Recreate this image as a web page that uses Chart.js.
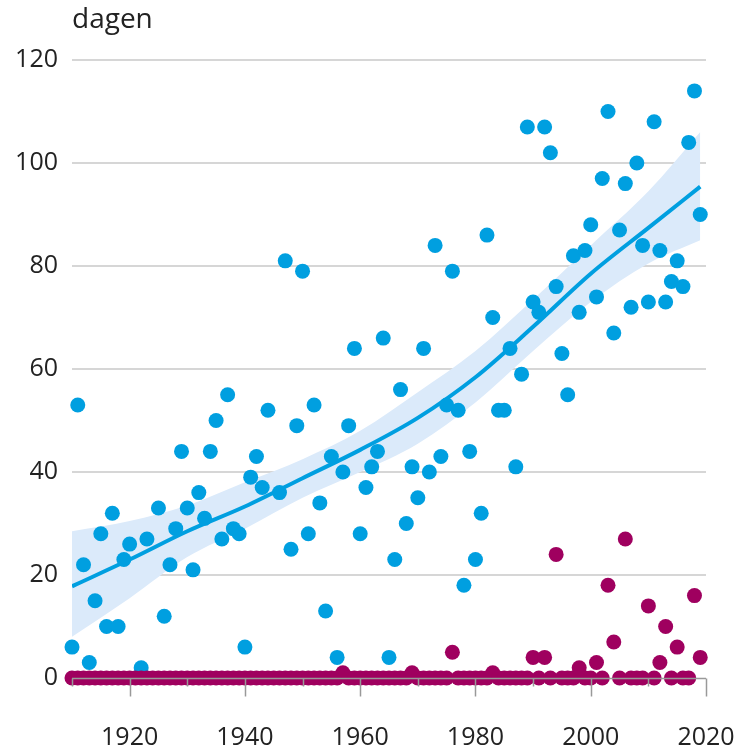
<!DOCTYPE html>
<html>
<head>
    <title>dagen</title>
    <script src="https://cdn.jsdelivr.net/npm/chart.js"></script>
    <style>
        body { margin: 0; background: #ffffff; }
        #wrap { width: 745px; height: 746px; }
    </style>
</head>
<body>
    <div id="wrap"><canvas id="daysChart" width="745" height="746"></canvas></div>
    <script>
        // blue series: days per year (years without a visible dot are left out)
        const blueYears = [
            1910, 1911, 1912, 1913, 1914, 1915, 1916, 1917, 1918, 1919,
            1920, 1922, 1923, 1925, 1926, 1927, 1928, 1929,
            1930, 1931, 1932, 1933, 1934, 1935, 1936, 1937, 1938, 1939,
            1940, 1941, 1942, 1943, 1944, 1946, 1947, 1948, 1949,
            1950, 1951, 1952, 1953, 1954, 1955, 1956, 1957, 1958, 1959,
            1960, 1961, 1962, 1963, 1964, 1965, 1966, 1967, 1968, 1969,
            1970, 1971, 1972, 1973, 1974, 1975, 1976, 1977, 1978, 1979,
            1980, 1981, 1982, 1983, 1984, 1985, 1986, 1987, 1988, 1989,
            1990, 1991, 1992, 1993, 1994, 1995, 1996, 1997, 1998, 1999,
            2000, 2001, 2002, 2003, 2004, 2005, 2006, 2007, 2008, 2009,
            2010, 2011, 2012, 2013, 2014, 2015, 2016, 2017, 2018, 2019
        ];
        const blueDays = [
            6, 53, 22, 3, 15, 28, 10, 32, 10, 23,
            26, 2, 27, 33, 12, 22, 29, 44,
            33, 21, 36, 31, 44, 50, 27, 55, 29, 28,
            6, 39, 43, 37, 52, 36, 81, 25, 49,
            79, 28, 53, 34, 13, 43, 4, 40, 49, 64,
            28, 37, 41, 44, 66, 4, 23, 56, 30, 41,
            35, 64, 40, 84, 43, 53, 79, 52, 18, 44,
            23, 32, 86, 70, 52, 52, 64, 41, 59, 107,
            73, 71, 107, 102, 76, 63, 55, 82, 71, 83,
            88, 74, 97, 110, 67, 87, 96, 72, 100, 84,
            73, 108, 83, 73, 77, 81, 76, 104, 114, 90
        ];

        // purple series: one value per year, 1910 to 2019
        const purpleFirstYear = 1910;
        const purpleDays = [
            0, 0, 0, 0, 0, 0, 0, 0, 0, 0,
            0, 0, 0, 0, 0, 0, 0, 0, 0, 0,
            0, 0, 0, 0, 0, 0, 0, 0, 0, 0,
            0, 0, 0, 0, 0, 0, 0, 0, 0, 0,
            0, 0, 0, 0, 0, 0, 0, 1, 0, 0,
            0, 0, 0, 0, 0, 0, 0, 0, 0, 1,
            0, 0, 0, 0, 0, 0, 5, 0, 0, 0,
            0, 0, 0, 1, 0, 0, 0, 0, 0, 0,
            4, 0, 4, 0, 24, 0, 0, 0, 2, 0,
            0, 3, 0, 18, 7, 0, 27, 0, 0, 0,
            14, 0, 3, 10, 0, 6, 0, 0, 16, 4
        ];

        const trendYears = [1910, 1920, 1930, 1940, 1950, 1960, 1970, 1980, 1990, 2000, 2010, 2019];
        const trendDays  = [17.8, 23, 28.5, 33.3, 38.8, 44.3, 50.5, 58.4, 68.2, 78.5, 87.4, 95.4];
        const bandLow    = [8, 15.5, 23.5, 29, 35, 40, 45.5, 53.5, 63.5, 73, 80.5, 85];
        const bandHigh   = [28.5, 30.5, 33.5, 38, 42.5, 48, 55.5, 63.5, 73.5, 84, 94.5, 106];

        const xTicks = [1910, 1920, 1930, 1940, 1950, 1960, 1970, 1980, 1990, 2000, 2010, 2020];
        const yTicks = [0, 20, 40, 60, 80, 100, 120];

        const blue = '#009fe0';
        const purple = '#9f005f';
        const textColor = '#222222';

        const toPoints = (xs, ys) => xs.map((x, i) => ({ x: x, y: ys[i] }));
        const purplePoints = purpleDays.map((v, i) => ({ x: purpleFirstYear + i, y: v }));

        // draws "dagen", the x axis line and its long/short ticks on top of the dots
        const extras = {
            id: 'extras',
            afterDraw(chart) {
                const ctx = chart.ctx;
                const xs = chart.scales.x;
                const bottom = Math.round(chart.chartArea.bottom) + 0.5;
                ctx.save();
                ctx.strokeStyle = '#999999';
                ctx.lineWidth = 1.5;
                ctx.beginPath();
                ctx.moveTo(xs.getPixelForValue(1910), bottom);
                ctx.lineTo(xs.getPixelForValue(2020), bottom);
                ctx.stroke();
                xTicks.forEach(v => {
                    const px = Math.round(xs.getPixelForValue(v)) + 0.5;
                    const len = v % 20 === 0 ? 18 : 8;
                    ctx.beginPath();
                    ctx.moveTo(px, bottom);
                    ctx.lineTo(px, bottom + len);
                    ctx.stroke();
                });
                ctx.fillStyle = textColor;
                ctx.font = '28px "Open Sans"';
                ctx.textAlign = 'left';
                ctx.textBaseline = 'middle';
                ctx.fillText('dagen', 72, 20);
                ctx.restore();
            }
        };

        const ctx = document.getElementById('daysChart').getContext('2d');
        const daysChart = new Chart(ctx, {
            type: 'scatter',
            data: {
                datasets: [
                    {
                        label: 'paars',
                        data: purplePoints,
                        backgroundColor: purple,
                        borderWidth: 0,
                        pointRadius: 7.5,
                        clip: false,
                        order: 0
                    },
                    {
                        label: 'blauw',
                        data: toPoints(blueYears, blueDays),
                        backgroundColor: blue,
                        borderWidth: 0,
                        pointRadius: 7.5,
                        clip: false,
                        order: 1
                    },
                    {
                        label: 'trend',
                        type: 'line',
                        data: toPoints(trendYears, trendDays),
                        borderColor: blue,
                        borderWidth: 4,
                        pointRadius: 0,
                        cubicInterpolationMode: 'monotone',
                        fill: false,
                        order: 2
                    },
                    {
                        label: 'onder',
                        type: 'line',
                        data: toPoints(trendYears, bandLow),
                        borderWidth: 0,
                        borderColor: 'rgba(0,0,0,0)',
                        pointRadius: 0,
                        cubicInterpolationMode: 'monotone',
                        fill: false,
                        order: 4
                    },
                    {
                        label: 'boven',
                        type: 'line',
                        data: toPoints(trendYears, bandHigh),
                        borderWidth: 0,
                        borderColor: 'rgba(0,0,0,0)',
                        backgroundColor: '#dbeafa',
                        pointRadius: 0,
                        cubicInterpolationMode: 'monotone',
                        fill: '-1',
                        order: 3
                    }
                ]
            },
            options: {
                responsive: false,
                animation: false,
                layout: { padding: { top: 60, right: 39, left: 0, bottom: 0 } },
                plugins: {
                    legend: { display: false },
                    tooltip: { enabled: false }
                },
                scales: {
                    x: {
                        type: 'linear',
                        min: 1910,
                        max: 2020,
                        afterFit: s => {
                            s.height = 68;
                            s.paddingLeft = 0;
                            s.paddingRight = 0;
                        },
                        afterBuildTicks: s => { s.ticks = xTicks.map(v => ({ value: v })); },
                        grid: { display: false, drawTicks: false },
                        border: { display: false },
                        ticks: {
                            padding: 45,
                            color: textColor,
                            font: { family: 'Open Sans', size: 25 },
                            maxRotation: 0,
                            autoSkip: false,
                            callback: v => (v % 20 === 0 ? String(v) : '')
                        }
                    },
                    y: {
                        min: 0,
                        max: 120,
                        afterFit: s => { s.width = 72; },
                        afterBuildTicks: s => { s.ticks = yTicks.map(v => ({ value: v })); },
                        grid: {
                            drawTicks: false,
                            lineWidth: 2,
                            color: c => (c.tick && c.tick.value === 0 ? 'rgba(0,0,0,0)' : '#d6d6d6')
                        },
                        border: { display: false },
                        ticks: {
                            padding: 14,
                            color: textColor,
                            font: { family: 'Open Sans', size: 25 }
                        }
                    }
                }
            },
            plugins: [extras]
        });
    </script>
</body>
</html>
